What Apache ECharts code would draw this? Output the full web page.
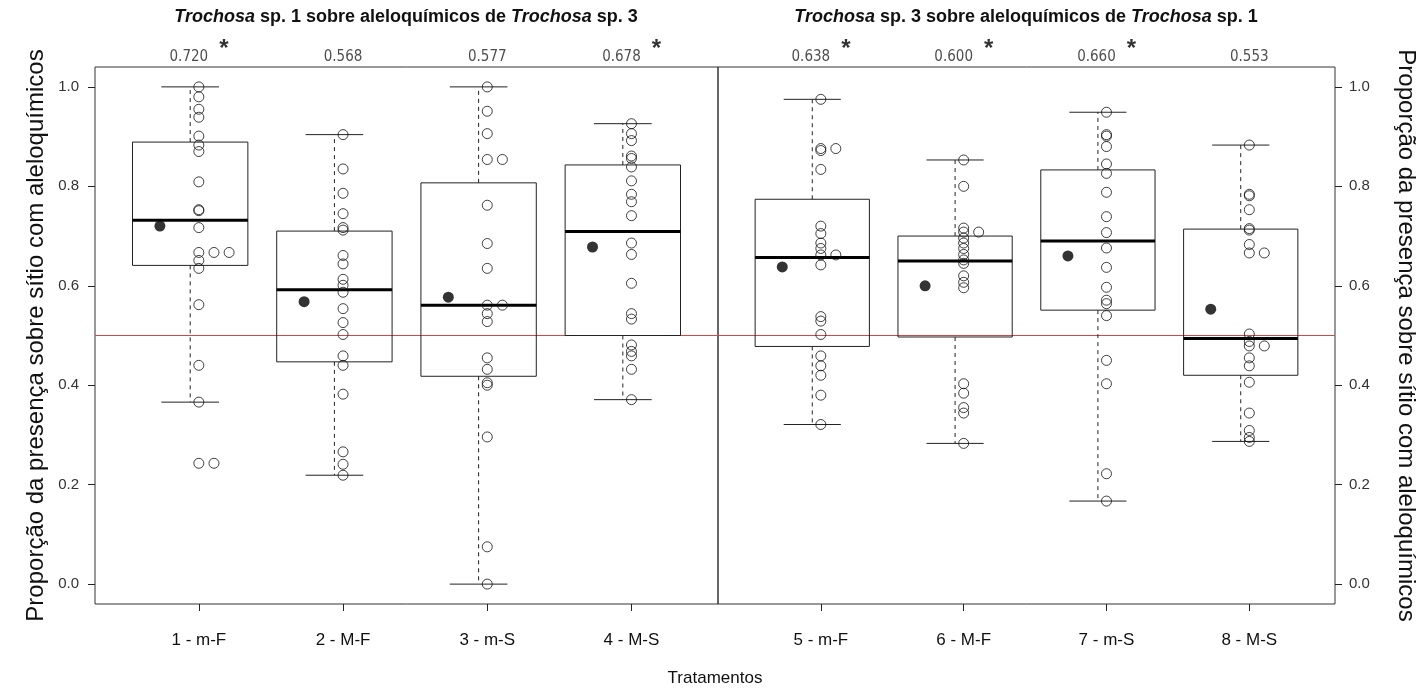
<!DOCTYPE html>
<html>
<head>
<meta charset="utf-8">
<title>Trochosa - aleloquímicos</title>
<script src="https://cdn.jsdelivr.net/npm/echarts@6/dist/echarts.min.js"></script>
<style>
  html, body { margin: 0; padding: 0; background: #fff; }
  #chart { width: 1421px; height: 691px; }
</style>
</head>
<body>
<div id="chart"></div>
<script>
// tratamentos (eixo x)
const labels1 = ['1 - m-F', '2 - M-F', '3 - m-S', '4 - M-S'];
const labels2 = ['5 - m-F', '6 - M-F', '7 - m-S', '8 - M-S'];
const yTicks = [0, 0.2, 0.4, 0.6, 0.8, 1.0];
const refLevel = 0.5; // linha de referência (sem preferência)

// estatísticas do boxplot
const whiskLow = [0.366, 0.219, 0.0, 0.371, 0.321, 0.283, 0.167, 0.287];
const q1 = [0.641, 0.447, 0.418, 0.500, 0.478, 0.497, 0.551, 0.420];
const median = [0.732, 0.592, 0.561, 0.709, 0.657, 0.650, 0.690, 0.494];
const q3 = [0.889, 0.710, 0.807, 0.843, 0.774, 0.700, 0.833, 0.714];
const whiskHigh = [1.0, 0.904, 1.0, 0.926, 0.975, 0.853, 0.949, 0.883];

// médias (ponto preto) e significância (*)
const means = [0.720, 0.568, 0.577, 0.678, 0.638, 0.600, 0.660, 0.553];
const signif = [true, false, false, true, true, true, true, false];

// observações individuais
const obs1 = [1.0, 0.98, 0.955, 0.939, 0.901, 0.883, 0.870, 0.809, 0.753, 0.751, 0.717, 0.667, 0.667, 0.667, 0.651, 0.635, 0.562, 0.440, 0.366, 0.243, 0.243];
const obs2 = [0.904, 0.835, 0.786, 0.745, 0.717, 0.712, 0.661, 0.644, 0.613, 0.601, 0.587, 0.554, 0.526, 0.502, 0.459, 0.440, 0.382, 0.266, 0.241, 0.219];
const obs3 = [1.0, 0.951, 0.906, 0.854, 0.854, 0.762, 0.685, 0.635, 0.561, 0.561, 0.544, 0.528, 0.455, 0.432, 0.405, 0.400, 0.296, 0.075, 0.0];
const obs4 = [0.926, 0.906, 0.892, 0.861, 0.856, 0.839, 0.811, 0.784, 0.769, 0.741, 0.686, 0.663, 0.605, 0.544, 0.533, 0.481, 0.468, 0.459, 0.432, 0.371];
const obs5 = [0.975, 0.876, 0.876, 0.872, 0.834, 0.720, 0.705, 0.686, 0.675, 0.662, 0.662, 0.642, 0.538, 0.529, 0.502, 0.459, 0.439, 0.420, 0.380, 0.321];
const obs6 = [0.853, 0.800, 0.716, 0.708, 0.708, 0.696, 0.686, 0.675, 0.663, 0.652, 0.645, 0.620, 0.607, 0.596, 0.403, 0.384, 0.355, 0.344, 0.283];
const obs7 = [0.949, 0.904, 0.901, 0.880, 0.845, 0.826, 0.788, 0.739, 0.707, 0.676, 0.637, 0.597, 0.571, 0.564, 0.540, 0.450, 0.403, 0.222, 0.167];
const obs8 = [0.883, 0.784, 0.781, 0.753, 0.715, 0.712, 0.683, 0.666, 0.666, 0.503, 0.488, 0.479, 0.479, 0.455, 0.439, 0.406, 0.344, 0.309, 0.295, 0.287];
const obsAll = [obs1, obs2, obs3, obs4, obs5, obs6, obs7, obs8];

const FONT = 'Liberation Sans, Arial, sans-serif';
const NARROW = 'Liberation Sans Narrow, DejaVu Sans Condensed, Roboto, Liberation Sans, sans-serif';
const INK = '#222';
const X_MIN = 0.34, X_MAX = 4.66;
const PT_OFF = 0.06;    // coluna dos pontos, à direita da caixa
const STACK = 0.105;    // valores repetidos empilhados para a direita
const MEAN_OFF = -0.21; // ponto da média à esquerda
const LABEL_Y = 1.0665; // linha dos valores acima do quadro

let chart = echarts.init(document.getElementById('chart'));

function renderBox(params, api) {
  const x = api.value(0);
  const lo = api.coord([x, api.value(1)]);
  const b1 = api.coord([x, api.value(2)]);
  const md = api.coord([x, api.value(3)]);
  const b3 = api.coord([x, api.value(4)]);
  const hi = api.coord([x, api.value(5)]);
  const hw = api.size([0.4, 0])[0];
  const cw = api.size([0.2, 0])[0];
  const cx = lo[0];
  const solid = { stroke: INK, lineWidth: 1 };
  const dash = { stroke: INK, lineWidth: 1, lineDash: [4, 4] };
  return {
    type: 'group',
    children: [
      { type: 'line', shape: { x1: cx, y1: b3[1], x2: cx, y2: hi[1] }, style: dash },
      { type: 'line', shape: { x1: cx, y1: b1[1], x2: cx, y2: lo[1] }, style: dash },
      { type: 'line', shape: { x1: cx - cw, y1: hi[1], x2: cx + cw, y2: hi[1] }, style: solid },
      { type: 'line', shape: { x1: cx - cw, y1: lo[1], x2: cx + cw, y2: lo[1] }, style: solid },
      { type: 'rect', shape: { x: cx - hw, y: b3[1], width: 2 * hw, height: b1[1] - b3[1] },
        style: { stroke: INK, lineWidth: 1, fill: 'none' } },
      { type: 'line', shape: { x1: cx - hw, y1: md[1], x2: cx + hw, y2: md[1] },
        style: { stroke: '#000', lineWidth: 3 } },
    ],
  };
}

function pointsFor(panel) {
  let out = [];
  for (let i = 0; i < 4; i++) {
    const j = panel * 4 + i;
    const seen = {};
    obsAll[j].forEach((v) => {
      const k = v.toFixed(3);
      const n = seen[k] || 0;
      seen[k] = n + 1;
      out.push([i + 1 + PT_OFF + n * STACK, v]);
    });
  }
  return out;
}

let series = [];
let xAxes = [];
let yAxes = [];
let grids = [
  { left: 95, right: 703, top: 67, bottom: 87 },
  { left: 718, right: 86, top: 67, bottom: 87 },
];

for (let p = 0; p < 2; p++) {
  const labels = p == 0 ? labels1 : labels2;
  const tickPos = [1, 2, 3, 4].map((v) => v + PT_OFF);
  xAxes.push({
    gridIndex: p,
    type: 'value',
    min: X_MIN,
    max: X_MAX,
    position: 'bottom',
    axisLine: { show: false, onZero: false },
    splitLine: { show: false },
    axisTick: { show: true, inside: false, customValues: tickPos, length: 7, lineStyle: { color: INK } },
    axisLabel: {
      show: true,
      customValues: tickPos,
      margin: 28,
      fontSize: 17,
      fontFamily: FONT,
      color: '#111',
      formatter: (v) => labels[Math.round(v - PT_OFF) - 1],
    },
  });
  yAxes.push({
    gridIndex: p,
    type: 'value',
    min: -0.04,
    max: 1.04,
    position: p == 0 ? 'left' : 'right',
    axisLine: { show: false, onZero: false },
    splitLine: { show: false },
    axisTick: { show: true, customValues: yTicks, length: 7, lineStyle: { color: INK } },
    axisLabel: {
      show: true,
      customValues: yTicks,
      margin: p == 0 ? 16 : 14,
      fontSize: 15,
      fontFamily: FONT,
      color: '#333',
      formatter: (v) => v.toFixed(1),
    },
    name: 'Proporção da presença sobre sítio com aleloquímicos',
    nameLocation: 'middle',
    nameGap: p == 0 ? 47 : 59,
    nameRotate: p == 0 ? 90 : -90,
    nameTextStyle: { fontSize: 24, fontFamily: FONT, color: '#111' },
  });

  let boxData = [];
  let meanData = [];
  let numData = [];
  let starData = [];
  for (let i = 0; i < 4; i++) {
    const j = p * 4 + i;
    const col = i + 1 + PT_OFF;
    boxData.push([i + 1, whiskLow[j], q1[j], median[j], q3[j], whiskHigh[j]]);
    meanData.push([i + 1 + MEAN_OFF, means[j]]);
    numData.push({
      value: [col, LABEL_Y, j],
      label: { offset: [signif[j] ? -10 : 0, 3] },
    });
    if (signif[j]) starData.push([col, LABEL_Y, j]);
  }

  // linha de referência em 0.5
  series.push({
    type: 'line',
    xAxisIndex: p,
    yAxisIndex: p,
    symbol: 'none',
    silent: true,
    lineStyle: { color: '#d04848', width: 1.2 },
    data: [[X_MIN, refLevel], [X_MAX, refLevel]],
    z: 1,
  });
  series.push({
    type: 'custom',
    xAxisIndex: p,
    yAxisIndex: p,
    renderItem: renderBox,
    encode: { x: 0, y: [1, 2, 3, 4, 5] },
    data: boxData,
    z: 2,
  });
  series.push({
    type: 'scatter',
    xAxisIndex: p,
    yAxisIndex: p,
    clip: false,
    symbol: 'circle',
    symbolSize: 10,
    itemStyle: { color: 'rgba(255,255,255,0)', borderColor: '#111', borderWidth: 1 },
    data: pointsFor(p),
    z: 3,
  });
  series.push({
    type: 'scatter',
    xAxisIndex: p,
    yAxisIndex: p,
    clip: false,
    symbol: 'circle',
    symbolSize: 11,
    itemStyle: { color: '#000' },
    data: meanData,
    z: 4,
  });
  // valores das médias acima do quadro
  series.push({
    type: 'scatter',
    xAxisIndex: p,
    yAxisIndex: p,
    clip: false,
    symbolSize: 0,
    silent: true,
    data: numData,
    label: {
      show: true,
      position: 'inside',
      fontSize: 15,
      fontFamily: NARROW,
      color: '#222',
      formatter: (pr) => means[pr.data.value[2]].toFixed(3),
    },
  });
  // asterisco de significância
  series.push({
    type: 'scatter',
    xAxisIndex: p,
    yAxisIndex: p,
    clip: false,
    symbolSize: 0,
    silent: true,
    data: starData,
    label: {
      show: true,
      position: 'inside',
      offset: [25, -4],
      fontSize: 24,
      fontWeight: 'bold',
      fontFamily: FONT,
      color: '#000',
      formatter: '*',
    },
  });
}

grids.forEach((g) => {
  g.show = true;
  g.borderColor = '#333';
  g.borderWidth = 1;
  g.backgroundColor = 'transparent';
  g.containLabel = false;
  g.outerBoundsMode = 'none';
});

function titleText(a, b) {
  return '{i|Trochosa}{b| sp. ' + a + ' sobre aleloquímicos de }{i|Trochosa}{b| sp. ' + b + '}';
}
const titleRich = {
  i: { fontSize: 18, fontWeight: 'bold', fontStyle: 'italic', fontFamily: FONT, fill: '#111' },
  b: { fontSize: 18, fontWeight: 'bold', fontFamily: FONT, fill: '#111' },
};

let option = {
  backgroundColor: '#fff',
  animation: false,
  grid: grids,
  xAxis: xAxes,
  yAxis: yAxes,
  series: series,
  graphic: [
    { type: 'text', x: 406, y: 17,
      style: { text: titleText(1, 3), rich: titleRich, align: 'center', verticalAlign: 'middle' } },
    { type: 'text', x: 1026, y: 17,
      style: { text: titleText(3, 1), rich: titleRich, align: 'center', verticalAlign: 'middle' } },
    { type: 'text', x: 715, y: 678,
      style: { text: 'Tratamentos', fontSize: 17, fontFamily: FONT, fill: '#111', align: 'center', verticalAlign: 'middle' } },
  ],
};

chart.setOption(option);
</script>
</body>
</html>
